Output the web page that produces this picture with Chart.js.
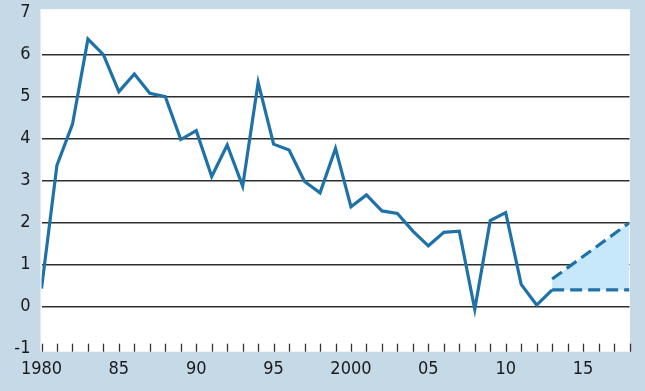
<!DOCTYPE html>
<html>
<head>
<meta charset="utf-8">
<script src="https://cdn.jsdelivr.net/npm/chart.js@4.4.1/dist/chart.umd.min.js"></script>
<style>
  html, body { margin: 0; padding: 0; background: #c6d9e7; }
  #wrap { width: 645px; height: 391px; }
</style>
</head>
<body>
<div id="wrap"><canvas id="chart" width="645" height="391"></canvas></div>
<script>
// yearly values, 1980-2013
const years = [1980, 1981, 1982, 1983, 1984, 1985, 1986, 1987, 1988, 1989,
               1990, 1991, 1992, 1993, 1994, 1995, 1996, 1997, 1998, 1999,
               2000, 2001, 2002, 2003, 2004, 2005, 2006, 2007, 2008, 2009,
               2010, 2011, 2012, 2013];
const values = [0.43, 3.37, 4.34, 6.37, 6.0, 5.12, 5.54, 5.08, 5.0, 3.98,
                4.19, 3.1, 3.85, 2.87, 5.34, 3.87, 3.73, 2.98, 2.71, 3.77,
                2.38, 2.66, 2.28, 2.22, 1.8, 1.45, 1.77, 1.8, -0.06, 2.05,
                2.24, 0.53, 0.04, 0.4];

// projection range
const projYears = [2013, 2018];
const projHigh = [0.66, 2.0];
const projLow = [0.4, 0.4];

// axis labels
const xTickYears = [1980, 1985, 1990, 1995, 2000, 2005, 2010, 2015];
const xTickLabels = ['1980', '85', '90', '95', '2000', '05', '10', '15'];
const yTicks = [-1, 0, 1, 2, 3, 4, 5, 6, 7];

const lineBlue = '#1f72a8';
const fillBlue = '#c6e8fa';
const bgBlue = '#c6d9e7';
const fontFamily = "'DejaVu Sans Condensed', sans-serif";

function toPoints(xs, ys) {
    return xs.map((x, i) => ({ x: x, y: ys[i] }));
}

// white plot panel and small year ticks along the bottom
const panelPlugin = {
    id: 'panel',
    beforeDraw(chart) {
        const { ctx, chartArea } = chart;
        ctx.save();
        ctx.fillStyle = bgBlue;
        ctx.fillRect(0, 0, chart.width, chart.height);
        ctx.fillStyle = '#ffffff';
        ctx.fillRect(chartArea.left - 1, chartArea.top - 3.5,
                     chartArea.right - chartArea.left + 1.5, chartArea.bottom - chartArea.top + 6.5);
        ctx.restore();
    },
    afterDatasetsDraw(chart) {
        const { ctx, chartArea } = chart;
        const xs = chart.scales.x;
        ctx.save();
        ctx.strokeStyle = '#333333';
        ctx.lineWidth = 1.3;
        for (let y = 1980; y <= 2018; y++) {
            const px = Math.round(xs.getPixelForValue(y)) + 0.5;
            ctx.beginPath();
            ctx.moveTo(px, chartArea.bottom - 5);
            ctx.lineTo(px, chartArea.bottom + 3);
            ctx.stroke();
        }
        ctx.restore();
    }
};

const ctx = document.getElementById('chart').getContext('2d');
new Chart(ctx, {
    type: 'line',
    data: {
        datasets: [
            {
                data: toPoints(years, values),
                borderColor: lineBlue,
                borderWidth: 3.2,
                pointRadius: 0,
                tension: 0,
                fill: false
            },
            {
                data: toPoints(projYears, projHigh),
                borderColor: lineBlue,
                borderWidth: 3.2,
                borderDash: [12, 6],
                pointRadius: 0,
                backgroundColor: fillBlue,
                fill: '+1'
            },
            {
                data: toPoints(projYears, projLow),
                borderColor: lineBlue,
                borderWidth: 3.2,
                borderDash: [12, 6],
                pointRadius: 0,
                fill: false
            }
        ]
    },
    options: {
        responsive: false,
        animation: false,
        layout: {
            padding: { top: 12.7, right: 15.5, left: 0, bottom: 0 }
        },
        plugins: {
            legend: { display: false },
            tooltip: { enabled: false },
            filler: { drawTime: 'beforeDatasetsDraw' }
        },
        scales: {
            x: {
                type: 'linear',
                min: 1980,
                max: 2018,
                afterBuildTicks(scale) {
                    scale.ticks = xTickYears.map(v => ({ value: v }));
                },
                afterFit(scale) {
                    scale.height = 42.3;
                    scale.paddingLeft = 0;
                    scale.paddingRight = 0;
                },
                grid: { display: false, drawTicks: false },
                border: { display: false },
                ticks: {
                    padding: 10,
                    maxRotation: 0,
                    autoSkip: false,
                    color: '#1a1a1a',
                    font: { family: fontFamily, size: 18 },
                    callback: function(value) {
                        const i = xTickYears.indexOf(value);
                        return i >= 0 ? xTickLabels[i] : '';
                    }
                }
            },
            y: {
                min: -1,
                max: 7,
                afterBuildTicks(scale) {
                    scale.ticks = yTicks.map(v => ({ value: v }));
                },
                afterFit(scale) {
                    scale.width = 41.5;
                    scale.paddingTop = 0;
                    scale.paddingBottom = 0;
                },
                grid: {
                    drawTicks: false,
                    lineWidth: 1.5,
                    color: function(c) {
                        const v = c.tick ? c.tick.value : null;
                        return (v === -1 || v === 7) ? 'rgba(0,0,0,0)' : '#2e2e2e';
                    }
                },
                border: { display: false },
                ticks: {
                    padding: 11,
                    color: '#1a1a1a',
                    font: { family: fontFamily, size: 18 }
                }
            }
        }
    },
    plugins: [panelPlugin]
});
</script>
</body>
</html>
